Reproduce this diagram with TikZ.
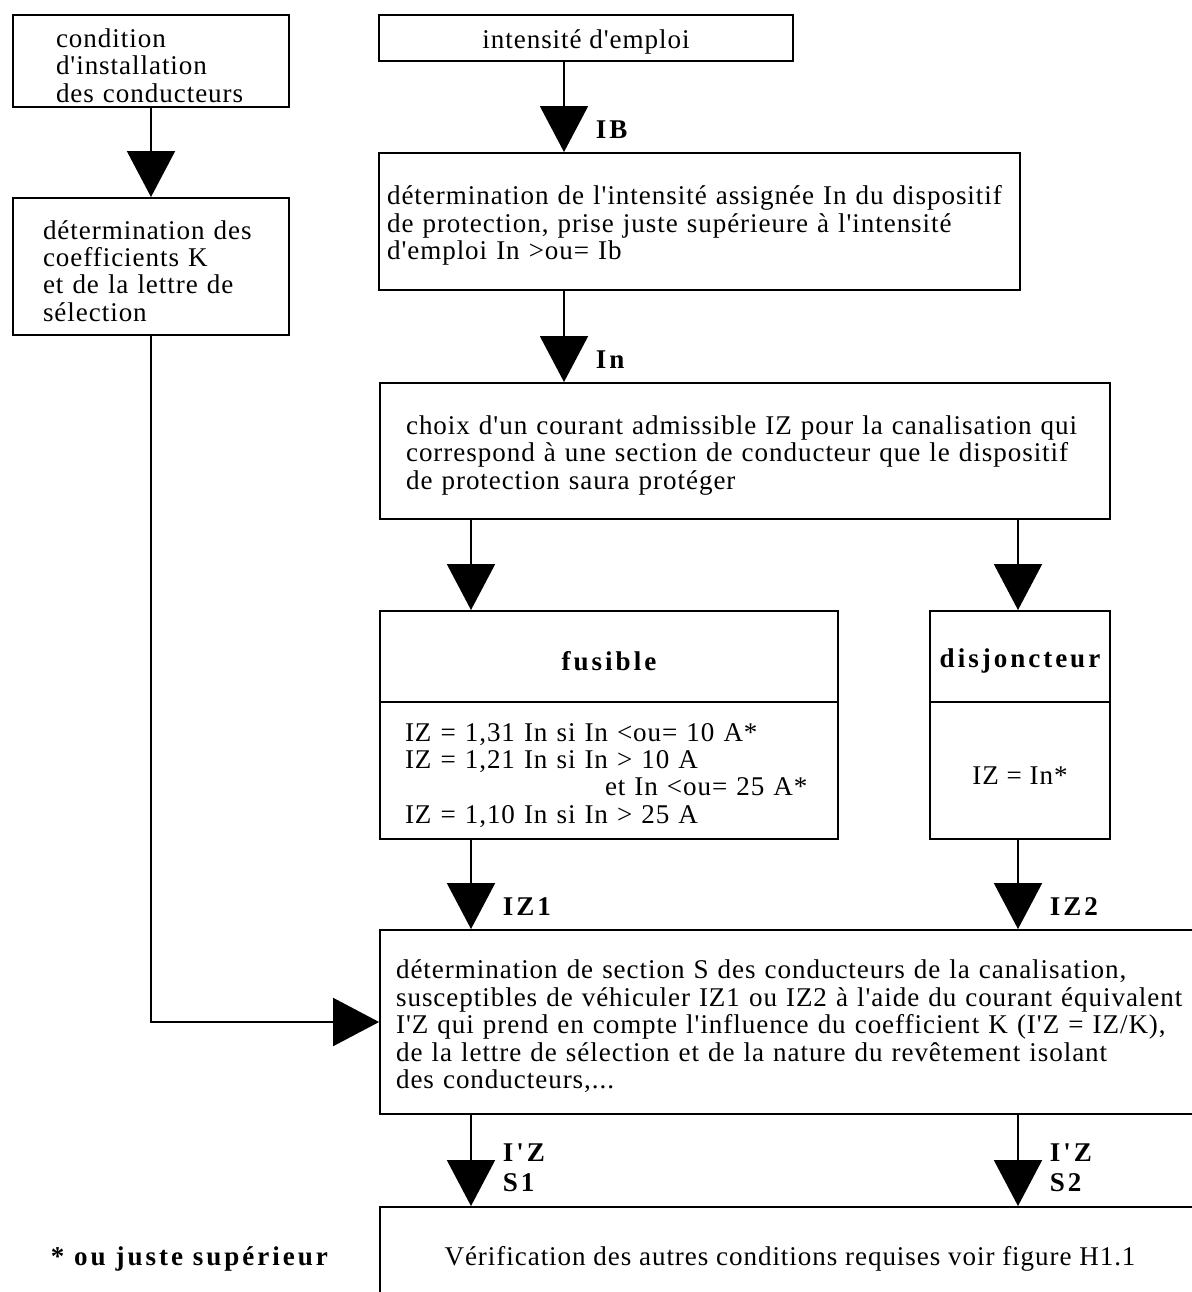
\documentclass[tikz,border=0pt]{standalone}
\usepackage{fontspec}
\setmainfont{Liberation Serif}[Ligatures=TeXOff, LetterSpace=3.5, BoldFeatures={LetterSpace=11}]
\usetikzlibrary{arrows.meta}

\newcommand\bodysize{\fontsize{15.4pt}{15.6pt}\selectfont}
\newcommand\lblsize{\fontsize{15.4pt}{17.4pt}\selectfont\bfseries}
\newcommand\topgap{\rule{0pt}{0.55cm}}

\begin{document}
\begin{tikzpicture}[
        x=0.02cm, y=-0.02cm,
        line width=1.1pt,
        box/.style={draw, align=left, inner ysep=0pt, font=\bodysize, execute at begin node=\topgap},
        flow/.style={-{Triangle[width=0.96cm, length=0.92cm]}},
        lbl/.style={anchor=south west, inner sep=0pt, align=left, font=\lblsize, xshift=0.62cm, yshift=0.26cm},
    ]
    \useasboundingbox (0,0) rectangle (1192,1292);
    \clip (0,0) rectangle (1192,1292);

    \coordinate (colB) at (564,0);
    \coordinate (colL) at (471,0);
    \coordinate (colR) at (1018,0);

    \node[box, text width=3.8cm, inner xsep=0.86cm, minimum height=1.84cm] (cond) at (151,61)
        {condition\\d'installation\\des conducteurs};
    \node[box, text width=4.32cm, inner xsep=0.6cm, minimum height=2.74cm] (coef) at (151,266.5)
        {détermination des\\coefficients K\\et de la lettre de\\sélection};
    \node[box, align=center, minimum width=8.28cm, minimum height=0.92cm] (emploi) at (586,38)
        {intensité d'emploi};
    \node[box, text width=12.5cm, inner xsep=0.16cm, minimum height=2.74cm] (Ib) at (699.5,221.5)
        {détermination de l'intensité assignée In du dispositif\\de protection, prise juste supérieure à l'intensité\\d'emploi In >ou= Ib};
    \node[box, text width=13.56cm, inner xsep=0.52cm, minimum height=2.72cm] (Ch) at (745,451)
        {choix d'un courant admissible IZ pour la canalisation qui\\correspond à une section de conducteur que le dispositif\\de protection saura protéger};
    \node[box, align=center, minimum width=9.16cm, minimum height=1.82cm, font=\bodysize\bfseries] (fus) at (609,656.5)
        {fusible};
    \node[box, text width=8.16cm, inner xsep=0.5cm, minimum height=2.74cm] (fusR) at (609,770.5)
        {IZ = 1,31 In si In <ou= 10 A*\\IZ = 1,21 In si In > 10 A\\\hspace*{4cm}et In <ou= 25 A*\\IZ = 1,10 In si In > 25 A};
    \node[box, align=center, minimum width=3.6cm, minimum height=1.82cm, font=\bodysize\bfseries] (disj) at (1020,656.5)
        {disjoncteur};
    \node[box, align=center, minimum width=3.6cm, minimum height=2.74cm] (disjR) at (1020,770.5)
        {IZ = In*};
    \node[box, text width=16.06cm, inner xsep=0.32cm, minimum height=3.68cm] (sect) at (797.5,1022)
        {détermination de section S des conducteurs de la canalisation,\\susceptibles de véhiculer IZ1 ou IZ2 à l'aide du courant équivalent\\I'Z qui prend en compte l'influence du coefficient K (I'Z = IZ/K),\\de la lettre de sélection et de la nature du revêtement isolant\\des conducteurs,...};
    \node[box, align=center, minimum width=16.4cm, minimum height=1.92cm] (verif) at (790,1255)
        {Vérification des autres conditions requises voir figure H1.1};
    \node[anchor=base west, inner sep=0pt, font=\bodysize\bfseries] (note) at (50,1265)
        {* ou juste supérieur};

    \draw[flow] (cond.south) -- (coef.north);
    \draw[flow] (emploi.south -| colB) -- (Ib.north -| colB) node[lbl] {IB};
    \draw[flow] (Ib.south -| colB) -- (Ch.north -| colB) node[lbl] {In};
    \draw[flow] (Ch.south -| colL) -- (fus.north -| colL);
    \draw[flow] (Ch.south -| colR) -- (disj.north -| colR);
    \draw[flow] (fusR.south -| colL) -- (sect.north -| colL) node[lbl] {IZ1};
    \draw[flow] (disjR.south -| colR) -- (sect.north -| colR) node[lbl] {IZ2};
    \draw[flow] (sect.south -| colL) -- (verif.north -| colL) node[lbl] {I'Z\\S1};
    \draw[flow] (sect.south -| colR) -- (verif.north -| colR) node[lbl] {I'Z\\S2};
    \draw[flow] (coef.south) |- (sect.west);
\end{tikzpicture}
\end{document}
